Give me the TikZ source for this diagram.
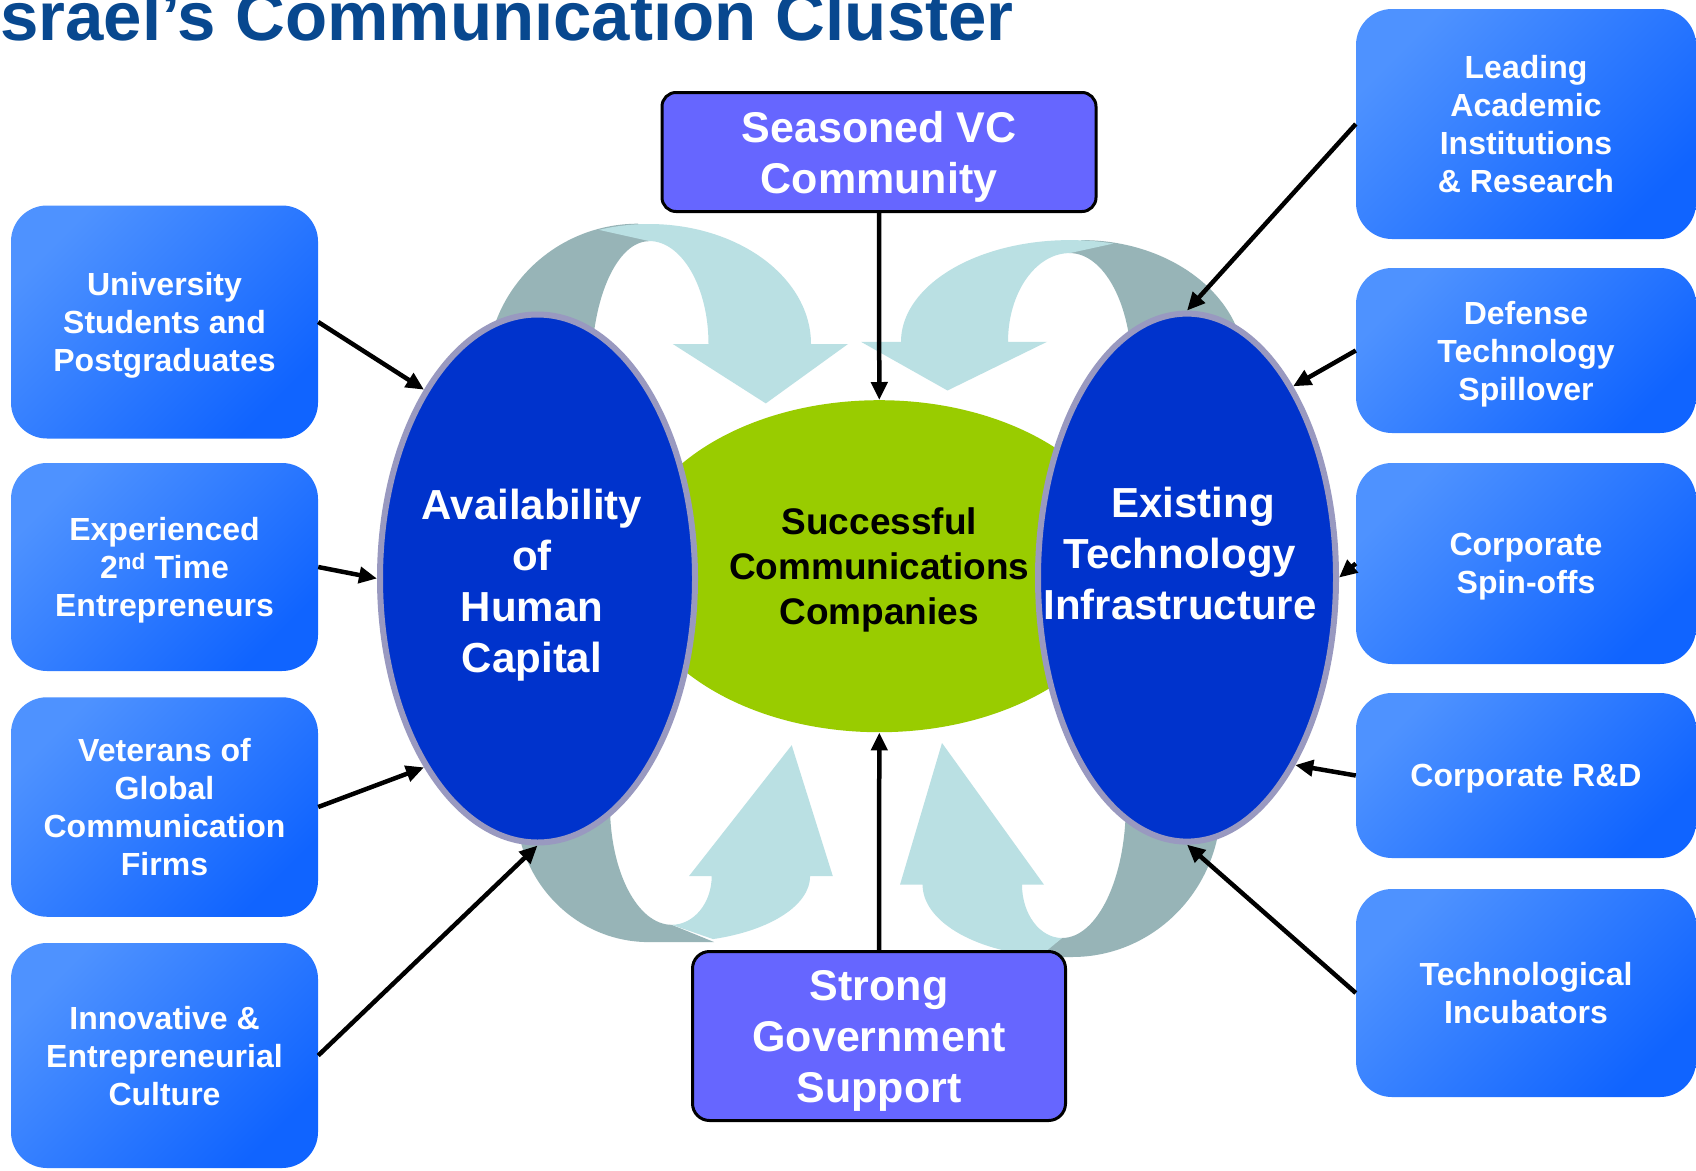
\documentclass[tikz,border=0pt]{standalone}
\usepackage{fontspec}
\setmainfont{Liberation Sans}
\usetikzlibrary{shapes.geometric,arrows.meta}
\definecolor{titleblue}{RGB}{8,72,143}
\definecolor{boxlight}{RGB}{78,146,255}
\definecolor{boxdark}{RGB}{16,100,255}
\definecolor{vcfill}{RGB}{102,102,255}
\definecolor{ellblue}{RGB}{0,51,204}
\definecolor{ellrim}{RGB}{153,153,192}
\definecolor{cgreen}{RGB}{153,204,0}
\definecolor{arclight}{RGB}{186,224,227}
\definecolor{arcdark}{RGB}{151,180,183}
\begin{document}
\begin{tikzpicture}[x=1pt,y=-1pt,
  sidebox/.style={rounded corners=36pt, top color=boxlight, bottom color=boxdark, shading angle=45,
    text=white, font=\fontsize{32}{38}\selectfont\bfseries, align=center, inner sep=0pt,
    text depth=0pt, minimum width=307pt},
  rbox/.style={sidebox, minimum width=340pt},
  purplebox/.style={draw=black, line width=3pt, fill=vcfill, text=white,
    font=\fontsize{43}{51}\selectfont\bfseries, align=center, inner sep=0pt, text depth=0pt},
  hub/.style={ellipse, fill=ellblue, draw=ellrim, line width=6pt, inner sep=0pt},
  hubtext/.style={text=white, font=\fontsize{42}{51}\selectfont\bfseries, align=center, inner sep=0pt},
  coretext/.style={text=black, font=\fontsize{37}{45}\selectfont\bfseries, align=center, inner sep=0pt},
  feed/.style={line width=4.5pt, -{Triangle[length=18pt,width=16pt]}},
  band/.style={fill=arclight},
  bandback/.style={fill=arcdark}
]
\useasboundingbox (0,0) rectangle (1696,1170);
\clip (0,0) rectangle (1696,1170);
\fill[white] (0,0) rectangle (1696,1170);

% title
\node[anchor=base west, inner sep=0pt, text=titleblue, font=\fontsize{69}{80}\selectfont\bfseries] (title) at (0,40) {srael’s Communication Cluster};

% curved arrows: back (dark) parts
\fill[bandback] (486.6,373) arc[start angle=180,end angle=270,x radius=151.4,y radius=149.3]
  -- (649,241.2) arc[start angle=270,end angle=180,x radius=57.3,y radius=126.5] -- cycle;
\fill[bandback] (1244.9,367.7) arc[start angle=0,end angle=-90,x radius=163.3,y radius=127.6]
  -- (1069.7,253.1) arc[start angle=270,end angle=360,x radius=61.7,y radius=114.6] -- cycle;
\fill[bandback] (516,805.8) arc[start angle=180,end angle=90,x radius=133,y radius=136.3]
  -- (714,942) -- (671.7,924.8) arc[start angle=90,end angle=180,x radius=61.7,y radius=119] -- cycle;
\fill[bandback] (1220.8,805) arc[start angle=0,end angle=90,x radius=148.8,y radius=152]
  -- (1037,957) -- (1062,938) arc[start angle=90,end angle=0,x radius=63.8,y radius=133] -- cycle;

% curved arrows: front (light) parts
\fill[band] (811,344) arc[start angle=0,end angle=-108,x radius=162,y radius=120]
  -- (649,241) arc[start angle=270,end angle=360,x radius=59.5,y radius=103]
  -- (672.8,344) -- (765.8,403.4) -- (848,344) -- cycle;
\fill[band] (901,341.8) arc[start angle=180,end angle=285,x radius=168.7,y radius=101.7]
  -- (1069.7,253.1) arc[start angle=270,end angle=180,x radius=61.7,y radius=88.7]
  -- (1047,341.8) -- (947.5,390.5) -- (861,341.8) -- cycle;
\fill[band] (810.1,876.1) arc[start angle=0,end angle=72.6,x radius=138.4,y radius=66]
  -- (671.7,924.8) arc[start angle=90,end angle=0,x radius=40,y radius=48.7]
  -- (689,876.1) -- (791.7,745.2) -- (832.8,876.1) -- cycle;
\fill[band] (922.6,884.7) arc[start angle=180,end angle=99,x radius=139.4,y radius=72.3]
  -- (1062,938) arc[start angle=90,end angle=180,x radius=40,y radius=53.3]
  -- (1044,884.7) -- (942,743) -- (900,884.7) -- cycle;

% core
\node[ellipse, fill=cgreen, inner sep=0pt, minimum width=502pt, minimum height=332pt] (G) at (879.3,566.2) {};
\node[hub, minimum width=315pt, minimum height=528pt] (L) at (537.5,578.5) {};
\node[hub, minimum width=298pt, minimum height=528pt] (R) at (1187,577.6) {};
\node[coretext] (gt) at (879.3,570) {Successful\\Communications\\Companies};
\node[hubtext] (lt) at (532,585) {Availability\\of\\Human\\Capital};
\node[hubtext] (rt) at (1180,553) {\hspace*{26pt}Existing\\Technology\\Infrastructure};

% top and bottom boxes
\node[purplebox, rounded corners=14pt, minimum width=434pt, minimum height=119pt] (vc) at (879,152) {Seasoned VC\\Community};
\node[purplebox, rounded corners=17pt, minimum width=373pt, minimum height=169pt] (gov) at (879,1036) {Strong\\Government\\Support};

% left boxes
\node[sidebox, minimum height=233pt] (b1) at (164.5,322) {University\\Students and\\Postgraduates};
\node[sidebox, minimum height=208pt] (b2) at (164.5,567) {Experienced\\2\textsuperscript{nd} Time\\Entrepreneurs};
\node[sidebox, minimum height=219.5pt] (b3) at (164.5,807) {Veterans of\\Global\\Communication\\Firms};
\node[sidebox, minimum height=225pt, text depth=-6pt] (b4) at (164.5,1055.5) {Innovative \&\\Entrepreneurial\\Culture};

% right boxes
\node[rbox, minimum height=230pt] (r1) at (1526,124) {Leading\\Academic\\Institutions\\\& Research};
\node[rbox, minimum height=165pt] (r2) at (1526,350.5) {Defense\\Technology\\Spillover};
\node[rbox, minimum height=201pt] (r3) at (1526,563.5) {Corporate\\Spin-offs};
\node[rbox, minimum height=165pt] (r4) at (1526,775.5) {Corporate R\&D};
\node[rbox, minimum height=208pt] (r5) at (1526,993) {Technological\\Incubators};

% connectors
\draw[feed] (b1.east) -- (L.121);
\draw[feed] (b2.east) -- (L.180);
\draw[feed] (b3.east) -- (L.239);
\draw[feed] (b4.east) -- (L.270);
\draw[feed] (r1.west) -- (R.90);
\draw[feed] (r2.west) -- (R.61);
\draw[feed] (r3.west) -- (R.0);
\draw[feed] (r4.west) -- (R.300);
\draw[feed] (r5.west) -- (R.270);
\draw[feed] (vc.south) -- (G.north);
\draw[feed] (gov.north) -- (G.south);
\end{tikzpicture}
\end{document}
